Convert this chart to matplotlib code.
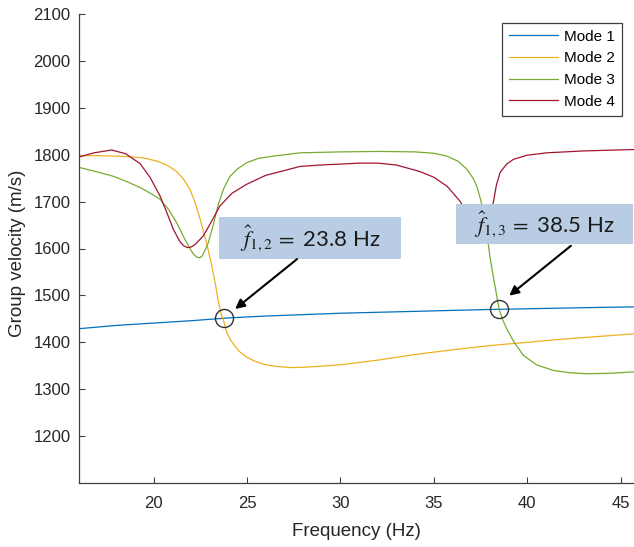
import numpy as np
import matplotlib
matplotlib.use("Agg")
import matplotlib.pyplot as plt
from matplotlib.patches import Rectangle

plt.rcParams['font.family'] = ['Liberation Sans', 'DejaVu Sans']
plt.rcParams['mathtext.fontset'] = 'stix'

# group velocity curves (Hz, m/s)
f_mode1 = [16, 18, 20, 22, 24, 26, 28, 30, 32, 34, 36, 38, 40, 42, 44, 45.7]
v_mode1 = [1429, 1436, 1441, 1446, 1452, 1456, 1459, 1462, 1464, 1466, 1468,
           1470, 1471.5, 1473, 1474.5, 1475.5]

f_mode2 = [16, 17, 18, 19, 19.6, 20.2, 20.7, 21.2, 21.6, 21.95, 22.2, 22.45, 22.7,
           22.9, 23.1, 23.3, 23.45, 23.6, 23.75, 23.9, 24.1, 24.35, 24.6, 25.0,
           25.4, 25.9, 26.5, 27.3, 28.2, 28.9, 30, 32, 34, 36, 38, 40, 42, 44, 45.7]
v_mode2 = [1798, 1798, 1797, 1795, 1792, 1786, 1778, 1765, 1748, 1725, 1700, 1668,
           1632, 1600, 1565, 1525, 1490, 1462, 1445, 1422, 1406, 1392, 1380, 1368,
           1360, 1353, 1349, 1346, 1347, 1349, 1352, 1362, 1374, 1384, 1393, 1400,
           1407, 1413, 1418]

f_mode3 = [16, 17, 17.84, 18.6, 19.27, 19.9, 20.34, 20.8, 21.23, 21.6, 21.95, 22.15,
           22.3, 22.45, 22.6, 22.75, 22.93, 23.2, 23.46, 23.75, 24.09, 24.5, 24.98,
           25.6, 26.4, 27.84, 30, 32.1, 34, 35.0, 35.7, 36.3, 36.77, 37.1, 37.3, 37.5,
           37.66, 37.85, 38.0, 38.2, 38.37, 38.5, 38.7, 38.9, 39.3, 39.8, 40.5, 41.4,
           42.3, 43.2, 44.5, 45.7]
v_mode3 = [1773, 1763, 1754, 1742, 1730, 1716, 1705, 1683, 1655, 1625, 1599, 1587,
           1582, 1580, 1584, 1596, 1613, 1652, 1694, 1728, 1754, 1770, 1783,
           1792, 1797, 1804, 1806, 1807, 1806, 1803, 1797, 1786, 1769, 1750, 1733, 1705,
           1677, 1630, 1584, 1537, 1499, 1470, 1447, 1429, 1400, 1372, 1352, 1340,
           1335, 1333, 1334, 1337]

f_mode4 = [16, 16.8, 17.75, 18.5, 19.27, 19.8, 20.34, 20.7, 21.05, 21.4, 21.6, 21.8,
           22.0, 22.2, 22.66, 23.1, 23.55, 24.2, 24.98, 26, 27.84, 28.9, 30, 31, 32,
           33, 34.26, 35, 35.7, 36.1, 36.4, 36.8, 37.2, 37.6, 38.0, 38.2, 38.35,
           38.55, 38.9, 39.26, 40, 41.05, 43, 45.7]
v_mode4 = [1795, 1804, 1810, 1802, 1781, 1752, 1712, 1677, 1641, 1615, 1606, 1602,
           1603, 1608, 1627, 1658, 1691, 1718, 1737, 1756, 1775, 1778, 1780, 1782,
           1782, 1778, 1764, 1752, 1733, 1715, 1701, 1675, 1650, 1640, 1665, 1701,
           1735, 1762, 1780, 1790, 1799, 1804, 1808, 1811]

mode_labels = ['Mode 1', 'Mode 2', 'Mode 3', 'Mode 4']
mode_colors = ['#0072BD', '#EDB120', '#77AC30', '#A2142F']

# crossing points and their labels
cross_f = [23.75, 38.5]
cross_v = [1452, 1470]
cross_text = [r'$\hat{f}_{1,2}\,=$ 23.8 Hz', r'$\hat{f}_{1,3}\,=$ 38.5 Hz']

fig = plt.figure(figsize=(6.34, 5.47), dpi=100)
ax = fig.add_axes([79 / 634, 64 / 547, 555 / 634, 469 / 547])

curves = [(f_mode1, v_mode1), (f_mode2, v_mode2), (f_mode3, v_mode3), (f_mode4, v_mode4)]
for (f, v), lab, col in zip(curves, mode_labels, mode_colors):
    ax.plot(f, v, color=col, lw=0.9, label=lab, zorder=2)

ax.set_xlim(16, 45.72)
ax.set_ylim(1100, 2100)
ax.set_xticks([20, 25, 30, 35, 40, 45])
ax.set_yticks(np.arange(1200, 2101, 100))

for s in ['top', 'right']:
    ax.spines[s].set_visible(False)
for s in ['left', 'bottom']:
    ax.spines[s].set_color('#404040')
    ax.spines[s].set_linewidth(0.9)
ax.tick_params(direction='in', length=4, width=0.8, color='#404040',
               labelsize=12, labelcolor='#262626')
ax.tick_params(axis='x', pad=9)
ax.tick_params(axis='y', pad=6)

ax.set_xlabel('Frequency (Hz)', fontsize=13.5, color='#262626')
ax.set_ylabel('Group velocity (m/s)', fontsize=13.5, color='#262626')
ax.xaxis.set_label_coords(0.5, -0.085)
ax.yaxis.set_label_coords(-0.095, 0.49)

leg = ax.legend(loc='upper right', bbox_to_anchor=(0.978, 0.981), borderaxespad=0,
                fontsize=11, fancybox=False, framealpha=1, edgecolor='#404040',
                handlelength=3.2, handletextpad=0.4, labelspacing=0.5,
                borderpad=0.45)
leg.get_frame().set_linewidth(0.9)

# label boxes (data coords)
boxes = [(23.5, 1577.5, 33.25 - 23.5, 1666.7 - 1577.5),
         (36.19, 1609.4, 45.67 - 36.19, 1694.3 - 1609.4)]
arrows = [((27.68, 1577.5), (24.36, 1471)),
          ((42.34, 1605.7), (39.04, 1499.5))]

for (x0, y0, w, h), txt, (tail, tip) in zip(boxes, cross_text, arrows):
    ax.add_patch(Rectangle((x0, y0), w, h, facecolor='#b8cde4', edgecolor='none',
                           zorder=4))
    ax.text(x0 + w / 2, y0 + h / 2, txt, ha='center', va='center', fontsize=16,
            family=['Lato', 'DejaVu Sans'], color='#1a1a1a', zorder=5)
    ax.annotate('', xy=tip, xytext=tail, zorder=6,
                arrowprops=dict(arrowstyle='-|>', color='k', lw=1.5,
                                mutation_scale=14, shrinkA=0, shrinkB=0))

ax.plot(cross_f, cross_v, 'o', ms=13, mfc='none', mec='#333333', mew=1.0, zorder=5)

fig.savefig('out.png', dpi=100)
